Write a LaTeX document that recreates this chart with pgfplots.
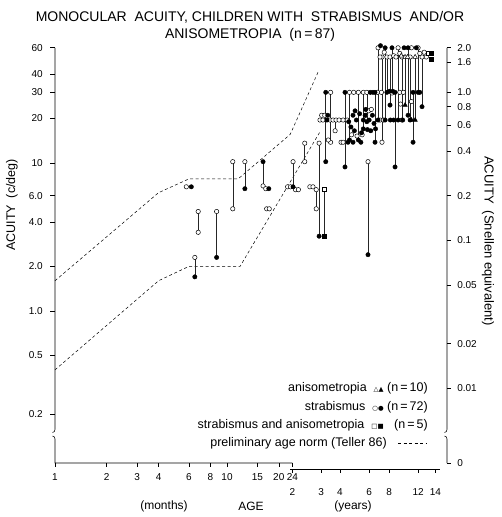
\documentclass[border=0pt]{standalone}
\usepackage{fontspec}
\setmainfont{Liberation Sans}
\newfontfamily\symfont{DejaVu Sans}
\usepackage{pgfplots}
\pgfplotsset{compat=1.18}

\newcommand\ymn{0.0939}
\newcommand\tickfont{\fontsize{10}{12}\selectfont}
\newcommand\LT[2]{\draw[line width=0.6pt] (axis cs:1,#1) -- ++(-5pt,0pt) node[anchor=east,inner sep=0pt,xshift=-7pt,font=\tickfont]{#2};}
\newcommand\RT[2]{\draw[line width=0.6pt] (axis cs:190,#1) -- ++(4pt,0pt) node[anchor=west,inner sep=0pt,xshift=6pt,font=\tickfont]{#2};}
\newcommand\MT[2]{\draw[line width=0.6pt] (axis cs:#1,\ymn) -- ++(0pt,-4pt) node[anchor=north,inner sep=0pt,yshift=-6pt,font=\tickfont]{#2};}
\newcommand\YT[2]{\draw[line width=0.6pt] ([yshift=-6pt]axis cs:#1,\ymn) -- ++(0pt,-4pt) node[anchor=north,inner sep=0pt,yshift=-15pt,font=\tickfont]{#2};}

\begin{document}
\begin{tikzpicture}
\useasboundingbox (-55pt,-54pt) rectangle (447pt,463pt);
\begin{axis}[
    at={(0pt,0pt)}, anchor=south west,
    scale only axis, width=392pt, height=415.2pt,
    xmode=log, ymode=log,
    xmin=1, xmax=190, ymin=0.0939, ymax=60,
    hide axis, clip=false,
    unbounded coords=jump,
]
% preliminary age norm (Teller 86), upper and lower limits
\addplot[black, line width=0.5pt, dash pattern=on 3pt off 2.5pt] coordinates {
(1,1.6) (4,6.3) (6,7.8) (11.6,7.8) (23.3,15.6) (33.8,41)
};
\addplot[black, line width=0.5pt, dash pattern=on 3pt off 2.5pt] coordinates {
(1,0.4) (4,1.6) (6,2.0) (11.9,2.0) (35,16.5)
};

% lines joining the two eyes of one child
\addplot[black!85, line width=0.55pt] coordinates {
(6.8,4.7) (6.8,3.4) (6.8,nan)
(6.5,2.3) (6.5,1.7) (6.5,nan)
(8.7,4.7) (8.7,2.3) (8.7,nan)
(10.8,10.2) (10.8,4.9) (10.8,nan)
(12.7,10.2) (12.7,6.7) (12.7,nan)
(16.2,10.2) (16.2,7.0) (16.2,nan)
(24.2,10.2) (24.2,6.9) (24.2,nan)
(28.3,13.6) (28.3,10.2) (28.3,nan)
(33,6.6) (33,4.9) (33,nan)
(34.3,13.6) (34.3,3.2) (34.3,nan)
(36.7,6.6) (36.7,3.2) (36.7,nan)
(37.5,30) (37.5,10.2) (37.5,nan)
(40,30) (40,13.8) (40,nan)
(42.5,19.5) (42.5,16.5) (42.5,nan)
(48.5,30) (48.5,9.4) (48.5,nan)
(51.5,30) (51.5,14.3) (51.5,nan)
(58,30) (58,14.3) (58,nan)
(62,30) (62,17) (62,nan)
(65,30) (65,19) (65,nan)
(66,10.2) (66,2.4) (66,nan)
(72.5,30) (72.5,13.8) (72.5,nan)
(75.5,60) (75.5,19.5) (75.5,nan)
(79.6,52) (79.6,13.8) (79.6,nan)
(83,60) (83,19.5) (83,nan)
(85,52) (85,30) (85,nan)
(88.6,52) (88.6,24.6) (88.6,nan)
(91,60) (91,29.7) (91,nan)
(94.8,30) (94.8,9.4) (94.8,nan)
(98.7,60) (98.7,19.5) (98.7,nan)
(104,52) (104,19.5) (104,nan)
(108.4,52) (108.4,24.6) (108.4,nan)
(112.8,60) (112.8,21) (112.8,nan)
(116,52) (116,19.5) (116,nan)
(120.6,30) (120.6,13.8) (120.6,nan)
(124,52) (124,19.5) (124,nan)
(129,60) (129,30) (129,nan)
(136,52) (136,24) (136,nan)
};

% strabismus, open
\addplot[only marks, mark=*, mark size=2.2pt, mark options={fill=white, draw=black, line width=0.5pt}] coordinates {
(5.8,6.9) (6.8,4.7) (6.8,3.4) (6.5,2.3) (8.7,4.7) (10.8,10.2) (10.8,4.9)
(12.7,10.2) (16.2,7.0) (16.8,6.7) (17,4.9) (17.6,4.9) (24.2,10.2)
(22.5,6.9) (23.4,6.9) (25,6.6) (26,6.6) (28.3,13.6) (28.3,10.2)
(30.3,6.9) (31.6,6.9) (33,6.6) (33,4.9) (34.3,13.6)
(40,30) (40,13.8) (34.7,19.5) (36.1,19.5) (39.7,19.5) (41.3,19.5) (43,19.5)
(44.8,19.5) (47.3,19.5) (35.5,21) (37,21) (42.5,16.5) (46,13.8) (47.3,13.8) (38.8,14.3)
(51.5,30) (54.5,30) (58,30) (62,30) (65,30)
(53,15.5) (57,15.2) (61,15.5) (64,21) (66.5,22.5) (69,23) (50,19.5) (66,10.2)
(75.5,60) (79.6,52) (85,52) (88.6,52) (98.7,60) (104,52) (116,52) (129,60) (136,52)
(79.6,13.8) (91,29.7) (104,19.5)
(77.5,52) (82,56) (93,53) (96,52) (101,55) (118,60) (132,55) (140,56) (144,52)
(75,30) (79,30) (101,30) (106,30) (77.5,19.5) (81,19.5) (102,25) (118,26)
};

% strabismus, filled
\addplot[only marks, mark=*, mark size=2.2pt, mark options={fill=black, draw=black}] coordinates {
(6.2,6.9) (6.5,1.7) (8.7,2.3) (12.7,6.7) (16.2,10.2) (17.5,6.7) (24.2,6.9) (34.3,3.2)
(37.5,30) (37.5,10.2) (38.1,19.5) (38.5,21) (48.5,30) (48.5,9.4) (50.5,13.8)
(51.5,14.3) (58,14.3) (62,17) (65,19) (66,2.4) (68,30) (70.5,30) (72.5,30) (72.5,13.8)
(51,19) (52.5,17.5) (54,21) (55,16.5) (56.5,19.5) (59,21.5) (60.5,16) (62,19.5)
(63.5,21) (65.5,16.8) (67,19.5) (68.5,16.5) (70,21) (71.5,18.5) (73,17) (54,13.8)
(60,13.8) (55.5,22.5) (64,23)
(83,60) (91,60) (112.8,60) (75.5,19.5) (83,19.5) (85,30) (88.6,24.6) (94.8,30) (94.8,9.4)
(98.7,19.5) (112.8,21) (116,19.5) (120.6,30) (120.6,13.8) (129,30) (136,24)
(88,30.5) (92,30.5) (132,30) (107,60) (126,60) (89,19.5) (93,19.5) (105,19.5) (78,62)
};

% anisometropia
\addplot[only marks, mark=triangle*, mark size=2.6pt, mark options={fill=white, draw=black, line width=0.5pt}] coordinates {
(108.4,52) (124,52) (103,53) (112,52)
};
\addplot[only marks, mark=triangle*, mark size=2.6pt, mark options={fill=black, draw=black}] coordinates {
(108.4,24.6) (124,19.5) (118,19.5)
};

% strabismus and anisometropia
\addplot[only marks, mark=square*, mark size=2pt, mark options={fill=white, draw=black, line width=0.5pt}] coordinates {
(36.7,6.6) (148,55)
};
\addplot[only marks, mark=square*, mark size=2pt, mark options={fill=black, draw=black}] coordinates {
(36.7,3.2) (153,55) (153,50)
};

% left axis, c/deg
\LT{60}{60}
\LT{40}{40}
\LT{30}{30}
\LT{20}{20}
\LT{10}{10}
\LT{6}{6.0}
\LT{4}{4.0}
\LT{2}{2.0}
\LT{1}{1.0}
\LT{0.5}{0.5}
\LT{0.2}{0.2}
% right axis, Snellen equivalent (1.0 = 30 c/deg)
\RT{60}{2.0}
\RT{48}{1.6}
\RT{30}{1.0}
\RT{24}{0.8}
\RT{18}{0.6}
\RT{12}{0.4}
\RT{6}{0.2}
\RT{3}{0.1}
\RT{1.5}{0.05}
\RT{0.6}{0.02}
\RT{0.3}{0.01}
\RT{0.0939}{0}
% age in months
\MT{1}{1}
\MT{2}{2}
\MT{3}{3}
\MT{4}{4}
\MT{6}{6}
\MT{8}{8}
\MT{10}{10}
\MT{15}{15}
\MT{20}{20}
\MT{24}{24}
% age in years (placed where the printed scale has them)
\YT{24}{2}
\YT{35.2}{3}
\YT{45.3}{4}
\YT{67}{6}
\YT{87.5}{8}
\YT{129}{12}
\YT{162.6}{14}
\end{axis}

% axis lines with breaks
\draw[line width=0.6pt] (0pt,415.2pt) -- (0pt,33.5pt) to[out=-90,in=0] (-2.5pt,30.5pt);
\draw[line width=0.6pt] (-2.5pt,27pt) to[out=0,in=90] (0pt,24pt) -- (0pt,0pt) -- (237.4pt,0pt);
\draw[line width=0.6pt] (235pt,-6pt) -- (385pt,-6pt);
\draw[line width=0.6pt] (392pt,415.2pt) -- (392pt,33.5pt) to[out=-90,in=0] (389.5pt,30.5pt);
\draw[line width=0.6pt] (389.5pt,27pt) to[out=0,in=90] (392pt,24pt) -- (392pt,0pt);

% titles
\node[font=\fontsize{14}{16}\selectfont] at (195pt,446pt) {MONOCULAR\ \ ACUITY,\ CHILDREN WITH\ \ STRABISMUS\ \ AND/OR};
\node[font=\fontsize{14}{16}\selectfont] at (195pt,428pt) {ANISOMETROPIA\ \ (n\,=\,87)};
\node[font=\fontsize{12.5}{15}\selectfont, rotate=90] at (-43pt,258pt) {ACUITY\ \ (c/deg)};
\node[font=\fontsize{13}{15}\selectfont, rotate=-90] at (433pt,222pt) {ACUITY\ \ (Snellen equivalent)};
\node[font=\fontsize{12}{14}\selectfont] at (109pt,-43pt) {(months)};
\node[font=\fontsize{12}{14}\selectfont] at (196pt,-43pt) {AGE};
\node[font=\fontsize{12}{14}\selectfont] at (298pt,-43pt) {(years)};

% legend
\node[anchor=east, inner sep=0pt, font=\fontsize{12.5}{15}\selectfont] at (373pt,75pt) {anisometropia\ \ {\symfont\fontsize{6.5}{8}\selectfont △▲}\ (n\,=\,10)};
\node[anchor=east, inner sep=0pt, font=\fontsize{12.5}{15}\selectfont] at (373pt,56pt) {strabismus\ \ {\symfont\fontsize{6.5}{8}\selectfont ○●}\ (n\,=\,72)};
\node[anchor=east, inner sep=0pt, font=\fontsize{12.5}{15}\selectfont] at (373pt,38pt) {strabismus and anisometropia\ \ {\symfont\fontsize{6.5}{8}\selectfont □■}\ \ \ (n\,=\,5)};
\node[anchor=east, inner sep=0pt, font=\fontsize{12.5}{15}\selectfont] at (332pt,20pt) {preliminary age norm (Teller 86)};
\draw[line width=0.5pt, dash pattern=on 3pt off 2.5pt] (343pt,20pt) -- (372pt,20pt);
\end{tikzpicture}
\end{document}
